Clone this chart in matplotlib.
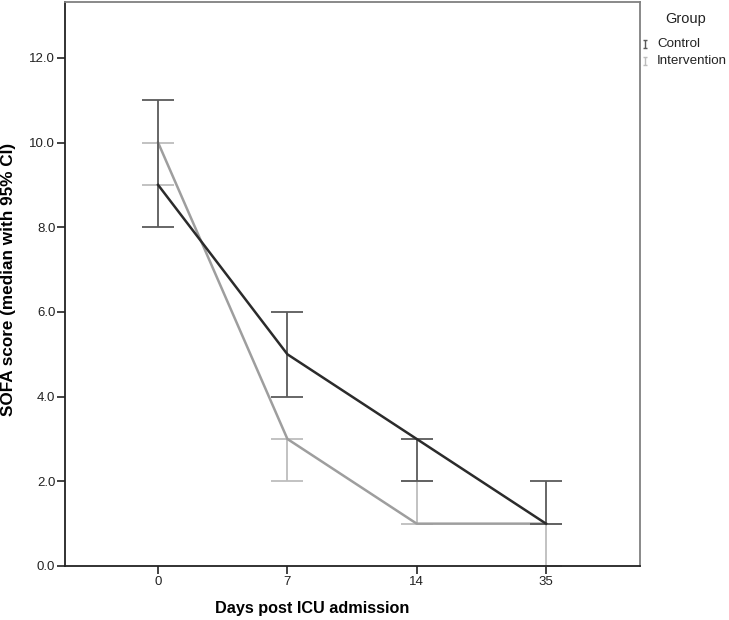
import matplotlib
matplotlib.use("Agg")
import matplotlib.pyplot as plt
from matplotlib.path import Path
from matplotlib.lines import Line2D
import numpy as np

plt.rcParams['font.family'] = ['Liberation Sans', 'DejaVu Sans']

days = ["0", "7", "14", "35"]
control_median = [9, 5, 3, 1]
control_low = [8, 4, 2, 1]
control_high = [11, 6, 3, 2]
interv_median = [10, 3, 1, 1]
interv_low = [9, 2, 1, 0]
interv_high = [10, 3, 2, 1]
yticks = [0, 2, 4, 6, 8, 10, 12]
groups = ["Control", "Intervention"]

W, H = 729, 620
fig = plt.figure(figsize=(W / 100, H / 100), dpi=100)
ax = fig.add_axes([65 / W, 1 - 566 / H, 575 / W, 564 / H])

x = np.arange(len(days))

c_line = "#2b2b2b"
c_err = "#5a5a5a"
i_line = "#9e9e9e"
i_err = "#bdbdbd"

def draw(med, lo, hi, lc, ec, z):
    med = np.array(med, float)
    yerr = [med - np.array(lo), np.array(hi) - med]
    ax.errorbar(x, med, yerr=yerr, fmt='none', ecolor=ec, elinewidth=1.3,
                capsize=11.5, capthick=1.3, zorder=z)
    ax.plot(x, med, color=lc, lw=1.8, zorder=z + 1)

draw(interv_median, interv_low, interv_high, i_line, i_err, 2)
draw(control_median, control_low, control_high, c_line, c_err, 4)

ax.set_xlim(-0.72, 3.727)
ax.set_ylim(0, 13.32)
ax.set_xticks(x)
ax.set_xticklabels(days)
ax.set_yticks(yticks)
ax.set_yticklabels([f"{v:.1f}" for v in yticks])
ax.tick_params(axis='both', direction='out', length=5.5, width=1.2, labelsize=9.5,
               colors='#222222', pad=1.5)

for s in ['left', 'bottom']:
    ax.spines[s].set_color('#222222')
    ax.spines[s].set_linewidth(1.3)
for s in ['top', 'right']:
    ax.spines[s].set_color('#808080')
    ax.spines[s].set_linewidth(1.3)

ax.set_xlabel("Days post ICU admission", fontsize=11.7, fontweight='bold')
ax.xaxis.set_label_coords(0.43, -0.062)
ax.set_ylabel("SOFA score (median with 95% CI)", fontsize=12.3, fontweight='bold')
ax.yaxis.set_label_coords(-0.085, 0.508)

# legend (outside, right)
ibeam = Path([(-0.45, -1), (0.45, -1), (0, -1), (0, 1), (-0.45, 1), (0.45, 1)],
             [Path.MOVETO, Path.LINETO, Path.MOVETO, Path.LINETO, Path.MOVETO, Path.LINETO])
fig.text(686 / W, 1 - 19 / H, "Group", fontsize=10.5, ha='center', va='center',
         color='#222222')
for label, col, yy in zip(groups, [c_err, i_err], [44, 61]):
    fig.add_artist(Line2D([645 / W], [1 - yy / H], transform=fig.transFigure,
                          linestyle='none', marker=ibeam, markersize=5.8,
                          markeredgewidth=1.0, color=col, markerfacecolor='none'))
    fig.text(657 / W, 1 - yy / H, label, fontsize=9.6, ha='left', va='center',
             color='#222222')

fig.savefig("out.png", dpi=100)
